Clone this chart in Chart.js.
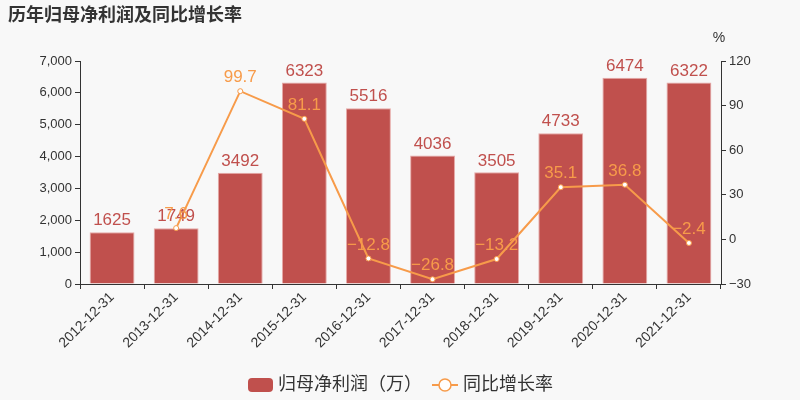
<!DOCTYPE html>
<html lang="zh-CN">
<head>
<meta charset="UTF-8">
<title>历年归母净利润及同比增长率</title>
<style>
    body { margin: 0; background: #f8f8f8; }
    #wrap { width: 800px; height: 400px; }
</style>
</head>
<body>
<div id="wrap"><canvas id="chart" width="800" height="400"></canvas></div>
<script src="https://cdn.jsdelivr.net/npm/chart.js"></script>
<script>
    // data
    const years = ['2012-12-31', '2013-12-31', '2014-12-31', '2015-12-31', '2016-12-31',
                   '2017-12-31', '2018-12-31', '2019-12-31', '2020-12-31', '2021-12-31'];
    const profit = [1625, 1749, 3492, 6323, 5516, 4036, 3505, 4733, 6474, 6322];
    const growth = [null, 7.6, 99.7, 81.1, -12.8, -26.8, -13.2, 35.1, 36.8, -2.4];
    const leftTicks = [0, 1000, 2000, 3000, 4000, 5000, 6000, 7000];
    const rightTicks = [-30, 0, 30, 60, 90, 120];

    const FONT = '"Liberation Sans", "Noto Sans CJK SC", sans-serif';
    const RED = '#c0504d';
    const ORANGE = '#f79b4a';

    function fmt(v) {
        return v < 0 ? '\u2212' + Math.abs(v) : String(v);
    }

    // background, title, % label, legend and value labels
    const extras = {
        id: 'extras',
        beforeDraw(chart) {
            const c = chart.ctx;
            c.save();
            c.fillStyle = '#f8f8f8';
            c.fillRect(0, 0, chart.width, chart.height);
            c.fillStyle = '#333';
            c.font = 'bold 18px ' + FONT;
            c.textBaseline = 'middle';
            c.fillText('历年归母净利润及同比增长率', 8, 16);
            const r = chart.scales.y1;
            c.font = '14px ' + FONT;
            c.textAlign = 'center';
            c.fillText('%', r.left - 2, 38);

            // legend
            const ly = 385;
            c.fillStyle = RED;
            c.beginPath();
            c.roundRect(248, ly - 7, 25, 14, 4);
            c.fill();
            c.fillStyle = '#333';
            c.font = '18px ' + FONT;
            c.textAlign = 'left';
            c.fillText(chart.data.datasets[1].label, 278, ly);
            c.strokeStyle = ORANGE;
            c.lineWidth = 2;
            c.beginPath();
            c.moveTo(432, ly); c.lineTo(458, ly);
            c.stroke();
            c.fillStyle = '#fff';
            c.lineWidth = 1.5;
            c.beginPath();
            c.arc(445, ly, 6, 0, Math.PI * 2);
            c.fill(); c.stroke();
            c.fillStyle = '#333';
            c.fillText(chart.data.datasets[0].label, 463, ly);
            c.restore();
        },
        afterDatasetsDraw(chart) {
            const c = chart.ctx;
            c.save();
            c.textAlign = 'center';
            c.textBaseline = 'bottom';
            c.font = '17px ' + FONT;
            c.fillStyle = RED;
            chart.getDatasetMeta(1).data.forEach((el, i) => {
                c.fillText(fmt(profit[i]), el.x, el.y - 3);
            });
            c.fillStyle = ORANGE;
            chart.getDatasetMeta(0).data.forEach((el, i) => {
                if (growth[i] === null) return;
                c.fillText(fmt(growth[i]), el.x, el.y - 5);
            });
            c.restore();
        }
    };

    new Chart(document.getElementById('chart'), {
        data: {
            labels: years,
            datasets: [{
                type: 'line',
                label: '同比增长率',
                data: growth,
                yAxisID: 'y1',
                borderColor: ORANGE,
                backgroundColor: '#fff',
                borderWidth: 2,
                pointRadius: 2.5,
                pointBorderWidth: 1,
                pointBackgroundColor: '#fff',
                pointBorderColor: ORANGE,
                tension: 0,
                order: 0
            }, {
                type: 'bar',
                label: '归母净利润（万）',
                data: profit,
                yAxisID: 'y',
                backgroundColor: RED,
                borderColor: '#e6a9a7',
                borderWidth: 1,
                barPercentage: 0.7,
                categoryPercentage: 1,
                order: 1
            }]
        },
        options: {
            responsive: false,
            animation: false,
            layout: { padding: { top: 61, left: 0, right: 0, bottom: 0 } },
            plugins: {
                title: { display: false },
                tooltip: { enabled: false },
                legend: { display: false }
            },
            scales: {
                x: {
                    offset: true,
                    grid: { display: true, drawOnChartArea: false, color: '#333', tickLength: 5, offset: true },
                    border: { color: '#333' },
                    ticks: { color: '#333', font: { family: FONT, size: 14 }, minRotation: 45, maxRotation: 45, padding: 0 },
                    afterFit(s) { s.height = 116; }
                },
                y: {
                    position: 'left',
                    min: 0, max: 7000,
                    afterBuildTicks(s) { s.ticks = leftTicks.map(v => ({ value: v })); },
                    grid: { drawOnChartArea: false, color: '#333', tickLength: 5 },
                    border: { color: '#333' },
                    ticks: { color: '#333', font: { family: FONT, size: 13 }, padding: 3,
                             callback: v => v.toLocaleString('en-US') },
                    afterFit(s) { s.width = 80; }
                },
                y1: {
                    position: 'right',
                    min: -30, max: 120,
                    afterBuildTicks(s) { s.ticks = rightTicks.map(v => ({ value: v })); },
                    grid: { drawOnChartArea: false, color: '#333', tickLength: 5 },
                    border: { color: '#333' },
                    ticks: { color: '#333', font: { family: FONT, size: 13 }, padding: 3,
                             callback: v => fmt(v) },
                    afterFit(s) { s.width = 79; }
                }
            }
        },
        plugins: [extras]
    });
</script>
</body>
</html>
